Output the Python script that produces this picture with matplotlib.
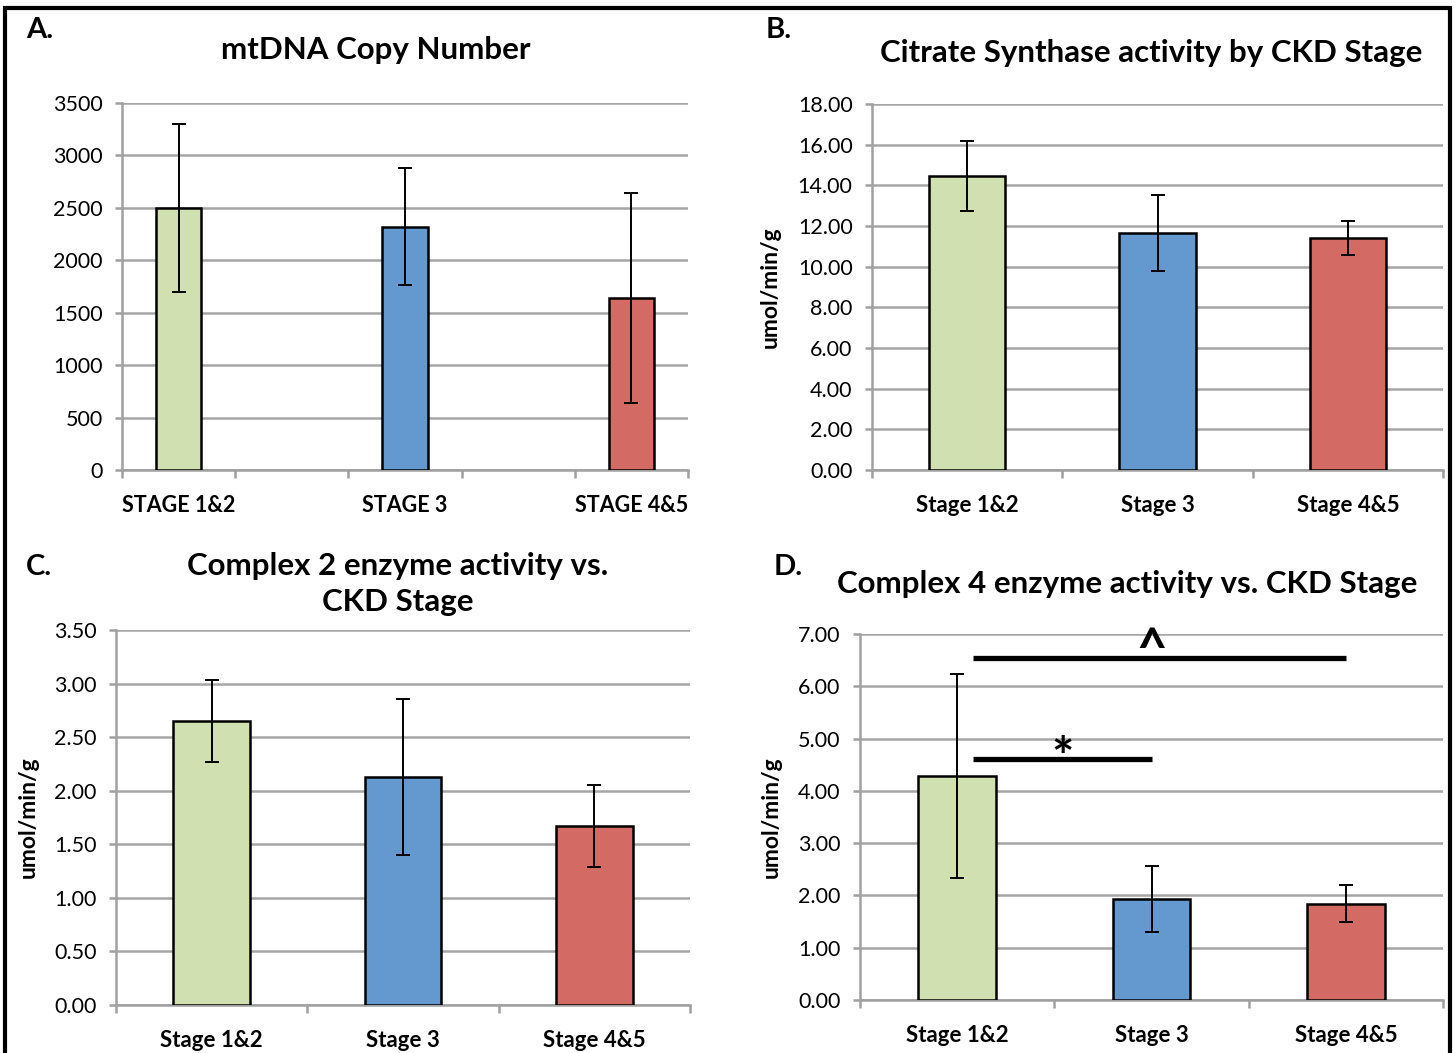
import numpy as np
import matplotlib.pyplot as plt
from matplotlib.patches import Rectangle

plt.rcParams['font.family'] = ['Lato', 'DejaVu Sans']

# --- datos ---
stages_upper = ["STAGE 1&2", "STAGE 3", "STAGE 4&5"]
stages = ["Stage 1&2", "Stage 3", "Stage 4&5"]

mtdna = [2500, 2320, 1640]
mtdna_err = [800, 560, 1000]

cs = [14.45, 11.66, 11.41]
cs_err = [1.72, 1.85, 0.86]

c2 = [2.65, 2.13, 1.67]
c2_err = [0.38, 0.73, 0.38]

c4 = [4.28, 1.93, 1.84]
c4_err = [1.95, 0.63, 0.35]

# comparaciones significativas en panel D: (desde, hasta, altura, simbolo)
c4_sig = [(0, 2, 6.55, "^"), (0, 1, 4.60, "*")]

colores = ["#D0E0B0", "#6499CF", "#D36A63"]

W, H = 1455, 1053
fig = plt.figure(figsize=(W / 100, H / 100), dpi=100)


def caja(x0, x1, y0, y1):
    # convierte pixeles a fraccion de figura
    return [x0 / W, 1 - y1 / H, (x1 - x0) / W, (y1 - y0) / H]


def panel(rect, cats, vals, errs, ymax, ystep, fmt, ancho, xlim, nbordes,
          xfs=16, ylabel=None, labx=None):
    ax = fig.add_axes(rect)
    x = np.arange(len(cats))
    ax.bar(x, vals, width=ancho, color=colores, edgecolor="black", linewidth=1.8, zorder=3)
    ax.errorbar(x, vals, yerr=errs, fmt="none", ecolor="black", elinewidth=1.4,
                capsize=5, capthick=1.4, zorder=4)
    ax.set_ylim(0, ymax)
    ax.set_xlim(*xlim)
    yt = np.arange(0, ymax + ystep / 2, ystep)
    ax.set_yticks(yt)
    ax.set_yticklabels([fmt.format(v) for v in yt])
    ax.yaxis.grid(True, color="#a6a6a6", linewidth=1.8, zorder=0)
    ax.set_axisbelow(True)
    for s in ["top", "right"]:
        ax.spines[s].set_visible(False)
    for s in ["left", "bottom"]:
        ax.spines[s].set_color("#a0a0a0")
        ax.spines[s].set_linewidth(1.8)
    ax.set_xticks(x)
    ax.set_xticklabels(cats, fontweight="bold", fontsize=xfs)
    ax.tick_params(axis="x", length=0, pad=18)
    ax.set_xticks(np.linspace(xlim[0], xlim[1], nbordes + 1), minor=True)
    ax.tick_params(axis="x", which="minor", length=6, width=1.8, color="#a0a0a0")
    ax.tick_params(axis="y", length=5, width=1.8, color="#a0a0a0", labelsize=15.5, pad=9)
    if ylabel:
        ax.set_ylabel(ylabel, fontweight="bold", fontsize=16.5)
        ax.yaxis.set_label_coords(labx, 0.5)
    return ax


# A
axA = panel(caja(122, 688, 103, 470), stages_upper, mtdna, mtdna_err, 3500, 500, "{:.0f}",
            0.2, (-0.25, 2.25), 5, xfs=15.5)
# B
axB = panel(caja(872, 1443, 104, 470), stages, cs, cs_err, 18, 2, "{:.2f}",
            0.4, (-0.5, 2.5), 3, ylabel="umol/min/g", labx=-0.16)
# C
axC = panel(caja(116, 690, 630, 1005), stages, c2, c2_err, 3.5, 0.5, "{:.2f}",
            0.4, (-0.5, 2.5), 3, ylabel="umol/min/g", labx=-0.134)
# D
axD = panel(caja(860, 1443, 634, 1000), stages, c4, c4_err, 7, 1, "{:.2f}",
            0.4, (-0.5, 2.5), 3, ylabel="umol/min/g", labx=-0.135)

for i, j, h, simb in c4_sig:
    axD.plot([i + 0.08, j + 0.0], [h, h], color="black", linewidth=3.8, zorder=5,
             solid_capstyle="butt", clip_on=False)
    if simb == "*":
        axD.text((i + j) / 2 + 0.04, h - 0.32, simb, ha="center", va="baseline",
                 fontsize=38, fontweight="bold", zorder=6)
    else:
        axD.text((i + j) / 2, h - 0.17, simb, ha="center", va="baseline",
                 fontsize=38, fontweight="bold", zorder=6)

# titulos y letras
tfs = 22.5
fig.text(376 / W, 1 - 50 / H, "mtDNA Copy Number", ha="center", va="center",
         fontsize=tfs, fontweight="bold")
fig.text(1151 / W, 1 - 53 / H, "Citrate Synthase activity by CKD Stage", ha="center",
         va="center", fontsize=tfs, fontweight="bold")
fig.text(398 / W, 1 - 584 / H, "Complex 2 enzyme activity vs.\nCKD Stage", ha="center",
         va="center", fontsize=tfs, fontweight="bold", linespacing=1.35)
fig.text(1127 / W, 1 - 584 / H, "Complex 4 enzyme activity vs. CKD Stage", ha="center",
         va="center", fontsize=tfs, fontweight="bold")

for letra, px, py in [("A.", 26, 30), ("B.", 766, 30), ("C.", 26, 567), ("D.", 774, 567)]:
    fig.text(px / W, 1 - py / H, letra, ha="left", va="center", fontsize=21, fontweight="bold")

# marco exterior
fig.patches.append(Rectangle((5 / W, -0.01), 1445 / W, 1 - 8 / H + 0.01, transform=fig.transFigure,
                             fill=False, edgecolor="black", linewidth=3))

fig.savefig("out.png", dpi=100)
